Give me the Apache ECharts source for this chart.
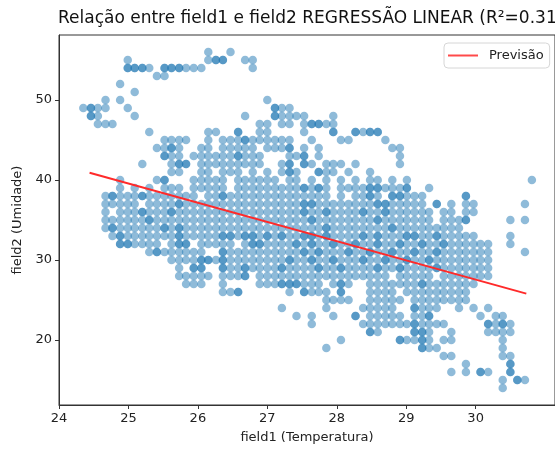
<!DOCTYPE html>
<html>
<head>
<meta charset="utf-8">
<script src="https://cdn.jsdelivr.net/npm/echarts@6/dist/echarts.min.js"></script>
<style>
  html, body { margin: 0; padding: 0; background: #fff; }
  #chart { width: 555px; height: 450px; }
</style>
</head>
<body>
<div id="chart"></div>
<script>
// leituras distintas de temperatura (field1) vistas no grafico
var tempLevels = [24.35, 24.46, 24.56, 24.67, 24.77, 24.88, 24.99, 25.09, 25.20, 25.30,
  25.41, 25.52, 25.62, 25.73, 25.83, 25.94, 26.05, 26.15, 26.26, 26.36,
  26.47, 26.58, 26.68, 26.79, 26.89, 27.00, 27.11, 27.21, 27.32, 27.42,
  27.53, 27.64, 27.74, 27.85, 27.95, 28.06, 28.17, 28.27, 28.38, 28.48,
  28.59, 28.70, 28.80, 28.91, 29.01, 29.12, 29.23, 29.33, 29.44, 29.54,
  29.65, 29.76, 29.86, 29.97, 30.07, 30.18, 30.29, 30.39, 30.50, 30.60,
  30.71, 30.81];

// umidade (field2) de cada linha de pontos
var humidityRows = [56, 55, 54, 53, 52, 51, 50, 49, 48, 47, 46, 45, 44, 43, 42, 41, 40, 39, 38, 37,
  36, 35, 34, 33, 32, 31, 30, 29, 28, 27, 26, 25, 24, 23, 22, 21, 20, 19, 18, 17, 16, 15, 14];

// para cada umidade, indices em tempLevels (repetidos = pontos sobrepostos)
var tempIdxByRow = [
  [17, 20],
  [6, 17, 18, 18, 19, 19, 22, 23],
  [6, 6, 7, 7, 8, 8, 9, 11, 11, 12, 12, 13, 13, 14, 15, 16, 23],
  [10, 11],
  [5],
  [7],
  [3, 5, 25],
  [0, 1, 1, 2, 3, 6, 26, 26, 27, 28],
  [1, 1, 2, 7, 22, 26, 26, 27, 28, 29, 30, 34],
  [2, 3, 4, 24, 25, 27, 28, 30, 31, 31, 32, 32, 33, 34],
  [9, 17, 18, 21, 21, 24, 25, 30, 34, 34, 37, 37, 38, 39, 39, 40, 40],
  [11, 12, 13, 14, 17, 19, 20, 21, 22, 22, 23, 24, 25, 26, 27, 28, 31, 35, 36, 41],
  [10, 11, 12, 12, 13, 16, 17, 19, 20, 21, 22, 23, 25, 26, 27, 28, 28, 30, 32, 42, 43],
  [11, 11, 12, 13, 15, 16, 17, 18, 19, 20, 21, 21, 22, 23, 24, 28, 29, 30, 30, 32, 43],
  [8, 12, 13, 13, 14, 14, 16, 17, 18, 19, 20, 21, 22, 23, 24, 27, 28, 28, 30, 30, 31, 33, 34, 35, 37, 43],
  [12, 13, 16, 17, 19, 20, 21, 23, 25, 27, 28, 28, 29, 32, 32, 33, 34, 36, 39],
  [5, 10, 11, 11, 15, 16, 17, 18, 19, 21, 22, 23, 24, 25, 26, 28, 29, 31, 33, 35, 37, 39, 40, 42, 44, 61],
  [5, 7, 9, 11, 12, 13, 15, 16, 17, 18, 19, 21, 22, 23, 24, 25, 26, 27, 28, 29, 30, 30, 31, 32, 32, 33, 35, 36, 37, 38, 39, 39, 40, 40, 41, 42, 43, 44, 44, 47],
  [3, 4, 4, 5, 6, 7, 8, 8, 9, 10, 11, 12, 13, 14, 15, 17, 18, 19, 19, 20, 21, 22, 23, 24, 25, 26, 27, 28, 29, 30, 31, 32, 33, 35, 37, 38, 39, 39, 40, 42, 42, 43, 43, 44, 45, 46, 52, 52],
  [3, 4, 5, 6, 7, 9, 10, 11, 12, 13, 13, 14, 15, 16, 17, 18, 19, 20, 21, 22, 23, 24, 25, 26, 27, 28, 29, 30, 30, 31, 31, 32, 33, 34, 35, 36, 37, 38, 39, 40, 40, 41, 41, 42, 43, 44, 45, 46, 48, 48, 50, 52, 53, 60],
  [3, 5, 6, 7, 8, 8, 9, 10, 11, 12, 12, 13, 14, 15, 16, 17, 18, 19, 20, 21, 22, 23, 24, 25, 26, 27, 28, 29, 30, 30, 31, 32, 33, 33, 34, 35, 36, 37, 38, 38, 39, 40, 41, 41, 42, 43, 44, 45, 46, 47, 49, 50, 52, 53],
  [3, 4, 5, 6, 7, 8, 9, 9, 10, 11, 12, 13, 14, 15, 16, 17, 18, 19, 20, 21, 22, 23, 24, 25, 26, 27, 28, 29, 30, 31, 31, 32, 33, 34, 35, 36, 37, 38, 39, 40, 40, 41, 42, 43, 44, 45, 46, 47, 49, 50, 51, 52, 52, 58, 60],
  [3, 4, 4, 5, 6, 7, 8, 9, 10, 11, 11, 12, 13, 13, 14, 15, 16, 17, 18, 19, 20, 21, 22, 23, 24, 25, 26, 27, 28, 29, 30, 31, 32, 33, 33, 34, 35, 36, 37, 38, 39, 40, 41, 42, 42, 43, 44, 45, 46, 47, 48, 49, 50, 51],
  [4, 5, 5, 6, 7, 8, 9, 10, 11, 12, 13, 13, 14, 15, 16, 17, 18, 19, 19, 20, 20, 21, 22, 22, 23, 23, 24, 25, 25, 26, 27, 27, 28, 29, 30, 30, 31, 31, 32, 33, 33, 34, 35, 36, 37, 38, 38, 39, 40, 40, 41, 42, 43, 44, 44, 45, 45, 46, 47, 48, 48, 49, 50, 51, 52, 53, 58],
  [5, 5, 6, 6, 7, 8, 9, 10, 12, 13, 13, 14, 14, 16, 17, 18, 19, 20, 22, 23, 23, 24, 24, 25, 26, 27, 28, 29, 29, 30, 31, 31, 32, 33, 34, 34, 35, 36, 37, 37, 38, 39, 40, 40, 41, 42, 43, 43, 44, 45, 46, 46, 47, 48, 49, 49, 50, 51, 52, 53, 54, 55, 58],
  [9, 10, 10, 11, 12, 13, 14, 15, 16, 19, 19, 20, 21, 22, 23, 24, 25, 26, 27, 28, 29, 30, 30, 31, 32, 32, 33, 34, 35, 36, 36, 37, 38, 39, 39, 40, 41, 42, 42, 43, 44, 45, 45, 46, 47, 48, 48, 49, 50, 51, 52, 53, 54, 55, 60],
  [12, 13, 14, 15, 16, 16, 17, 17, 18, 19, 19, 20, 21, 22, 23, 24, 25, 26, 27, 28, 28, 29, 30, 31, 31, 32, 33, 34, 34, 35, 36, 37, 38, 38, 39, 40, 41, 41, 42, 43, 44, 44, 45, 46, 47, 47, 48, 49, 50, 51, 52, 53, 54, 55],
  [13, 15, 15, 16, 16, 19, 19, 20, 21, 22, 22, 23, 24, 25, 26, 27, 27, 28, 29, 30, 31, 32, 32, 33, 34, 35, 35, 36, 37, 38, 39, 40, 40, 41, 42, 43, 43, 44, 45, 46, 47, 48, 48, 49, 50, 51, 52, 53, 54, 55],
  [13, 14, 15, 16, 17, 19, 20, 21, 22, 22, 24, 25, 26, 27, 28, 29, 30, 31, 32, 33, 34, 35, 36, 37, 38, 39, 40, 41, 43, 44, 45, 46, 47, 49, 50, 51, 52, 53, 54, 55],
  [14, 15, 16, 19, 24, 25, 26, 27, 27, 28, 28, 29, 29, 30, 31, 32, 34, 35, 35, 36, 39, 40, 41, 42, 43, 44, 45, 46, 46, 47, 48, 49, 50, 51, 52, 53],
  [19, 20, 21, 21, 28, 30, 30, 31, 32, 33, 35, 35, 39, 40, 41, 42, 44, 45, 46, 47, 48, 49, 50, 51, 52],
  [33, 34, 35, 36, 39, 40, 41, 42, 43, 45, 46, 47, 48, 49, 50, 51, 52],
  [27, 33, 38, 39, 40, 41, 42, 45, 45, 46, 47, 48, 51, 53, 55],
  [29, 31, 34, 37, 37, 39, 40, 41, 42, 43, 45, 46, 47, 47, 54, 56, 57],
  [31, 38, 39, 40, 41, 42, 43, 44, 45, 45, 46, 47, 48, 49, 55, 55, 56, 57, 57, 58],
  [39, 39, 40, 45, 45, 46, 46, 47, 50, 55, 56, 57, 58],
  [35, 43, 43, 44, 45, 46, 46, 47, 49, 50, 57],
  [33, 46, 46, 47, 48, 57],
  [49, 50, 57, 58],
  [52, 58, 58],
  [50, 52, 54, 54, 55, 58, 58],
  [57, 59, 59, 60],
  [57]
];

var previsaoTemp = [24.44, 30.73];
var previsaoUmid = [40.9, 25.8];

var xTicks = [24, 25, 26, 27, 28, 29, 30];
var yTicks = [20, 30, 40, 50];

var pontos = [];
for (var i = 0; i < humidityRows.length; i++) {
  for (var j = 0; j < tempIdxByRow[i].length; j++) {
    pontos.push([tempLevels[tempIdxByRow[i][j]], humidityRows[i]]);
  }
}
var linha = [];
for (var i = 0; i < previsaoTemp.length; i++) {
  linha.push([previsaoTemp[i], previsaoUmid[i]]);
}

var fonte = 'DejaVu Sans';
var myChart = echarts.init(document.getElementById('chart'), null, { renderer: 'canvas' });
var options = {
  animation: false,
  textStyle: { fontFamily: fonte },
  title: {
    text: 'Relação entre field1 e field2 REGRESSÃO LINEAR (R²=0.31)',
    left: 58,
    top: 10,
    padding: 0,
    textStyle: { fontSize: 17, fontWeight: 'normal', color: '#111', fontFamily: fonte }
  },
  legend: {
    data: [{ name: 'Previsão', icon: 'rect' }],
    left: 444,
    top: 43,
    itemWidth: 30,
    itemHeight: 2,
    padding: [5, 6, 5, 4],
    borderColor: '#d6d6d6',
    borderWidth: 1,
    borderRadius: 4,
    backgroundColor: 'rgba(255,255,255,0.85)',
    textStyle: { fontSize: 13, color: '#222', fontFamily: fonte, lineHeight: 15, padding: [0, 0, 0, 6] }
  },
  grid: {
    left: 59,
    top: 35,
    width: 500,
    height: 370,
    show: true,
    borderColor: '#333',
    borderWidth: 1,
    backgroundColor: 'transparent'
  },
  xAxis: {
    type: 'value',
    min: 24,
    max: 24 + 500 / 70,
    name: 'field1 (Temperatura)',
    nameLocation: 'middle',
    nameGap: 26,
    nameTextStyle: { fontSize: 13, color: '#222', fontFamily: fonte },
    axisLine: { show: true, lineStyle: { color: '#333', width: 1 } },
    axisTick: { show: true, length: 4, customValues: xTicks, lineStyle: { color: '#333' } },
    axisLabel: { customValues: xTicks, fontSize: 13, color: '#222', margin: 7, fontFamily: fonte },
    splitLine: { show: false }
  },
  yAxis: {
    type: 'value',
    min: 11.875,
    max: 58.125,
    name: 'field2 (Umidade)',
    nameLocation: 'middle',
    nameRotate: 90,
    nameGap: 31,
    nameTextStyle: { fontSize: 13, color: '#222', fontFamily: fonte },
    axisLine: { show: true, lineStyle: { color: '#333', width: 1 } },
    axisTick: { show: true, length: 4, customValues: yTicks, lineStyle: { color: '#333' } },
    axisLabel: { customValues: yTicks, fontSize: 13, color: '#222', margin: 7, fontFamily: fonte },
    splitLine: { show: false }
  },
  series: [
    {
      name: 'Dados',
      type: 'scatter',
      symbol: 'circle',
      symbolSize: 8.5,
      silent: true,
      itemStyle: { color: '#1f77b4', opacity: 0.5 },
      data: pontos
    },
    {
      name: 'Previsão',
      type: 'line',
      symbol: 'none',
      silent: true,
      lineStyle: { color: '#ff2a2a', width: 2 },
      itemStyle: { color: '#ff4a4a' },
      data: linha
    }
  ]
};
myChart.setOption(options);
</script>
</body>
</html>
